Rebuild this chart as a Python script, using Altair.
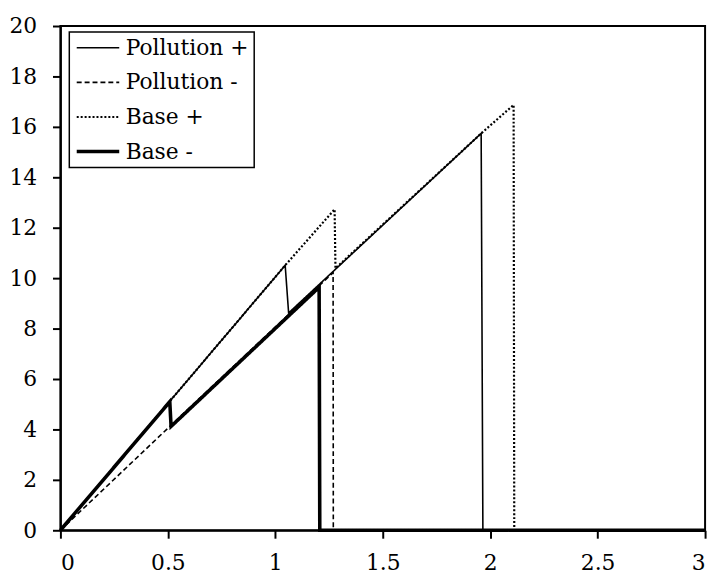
import altair as alt
import pandas as pd

# Series data
series_names = ["Pollution +", "Pollution -", "Base +", "Base -"]

pollution_plus_x = [0, 1.046, 1.062, 1.958, 1.966, 3]
pollution_plus_y = [0, 10.51, 8.62, 15.74, 0, 0]

pollution_minus_x = [0, 0.509, 1.269, 1.270, 3]
pollution_minus_y = [0, 4.12, 10.22, 0, 0]

base_plus_x = [0, 1.046, 1.276, 1.280, 1.958, 2.109, 2.112, 3]
base_plus_y = [0, 10.51, 12.73, 10.39, 15.74, 16.87, 0, 0]

base_minus_x = [0, 0.509, 0.515, 1.204, 1.207, 3]
base_minus_y = [0, 5.10, 4.12, 9.64, 0, 0]

x_ticks = [0, 0.5, 1, 1.5, 2, 2.5, 3]
y_ticks = [0, 2, 4, 6, 8, 10, 12, 14, 16, 18, 20]

dash_styles = [[1, 0], [5, 3], [2, 2], [1, 0]]
width_styles = [1.6, 1.6, 2.2, 3.6]

series_data = [
    ("Pollution +", pollution_plus_x, pollution_plus_y),
    ("Pollution -", pollution_minus_x, pollution_minus_y),
    ("Base +", base_plus_x, base_plus_y),
    ("Base -", base_minus_x, base_minus_y),
]

FONT = "DejaVu Serif"

legend = alt.Legend(
    title=None,
    orient="none",
    legendX=9,
    legendY=6,
    symbolType="stroke",
    symbolSize=1849,
    symbolOffset=13,
    symbolStrokeColor="black",
    symbolStrokeWidth=alt.ExprRef("datum.value == 'Base -' ? 3.6 : (datum.value == 'Base +' ? 2.2 : 1.6)"),
    labelFont=FONT,
    labelFontSize=22,
    labelColor="black",
    labelOffset=17,
    strokeColor="black",
    fillColor="white",
    padding=5,
    rowPadding=13,
)

layers = []
for (name, xs, ys), w in zip(series_data, width_styles):
    d = pd.DataFrame({"series": name, "idx": list(range(len(xs))), "x": xs, "y": ys})
    layers.append(
        alt.Chart(d)
        .mark_line(color="black", strokeCap="butt", strokeWidth=w)
        .encode(
            x=alt.X(
                "x:Q",
                scale=alt.Scale(domain=[0, 3], nice=False),
                axis=alt.Axis(values=x_ticks, format="~g", title=None, labelPadding=15),
            ),
            y=alt.Y(
                "y:Q",
                scale=alt.Scale(domain=[0, 20], nice=False),
                axis=alt.Axis(values=y_ticks, format="~g", title=None, labelPadding=16),
            ),
            strokeDash=alt.StrokeDash(
                "series:N",
                scale=alt.Scale(domain=series_names, range=dash_styles),
                legend=legend,
            ),
            order="idx:Q",
        )
    )

chart = (
    alt.layer(*layers)
    .properties(
        width=652,
        height=510,
        autosize=alt.AutoSizeParams(type="none"),
        padding={"left": 53, "top": 15, "right": 7, "bottom": 42},
    )
    .configure_view(stroke="black", strokeWidth=2)
    .configure_legend(strokeWidth=1.5)
    .configure_axis(
        grid=False,
        domainColor="black",
        domainWidth=2,
        tickColor="black",
        tickWidth=2,
        tickSize=8,
        labelFont=FONT,
        labelFontSize=22,
        labelColor="black",
    )
)

chart.save("out.html", embed_options={"renderer": "svg", "actions": False})
